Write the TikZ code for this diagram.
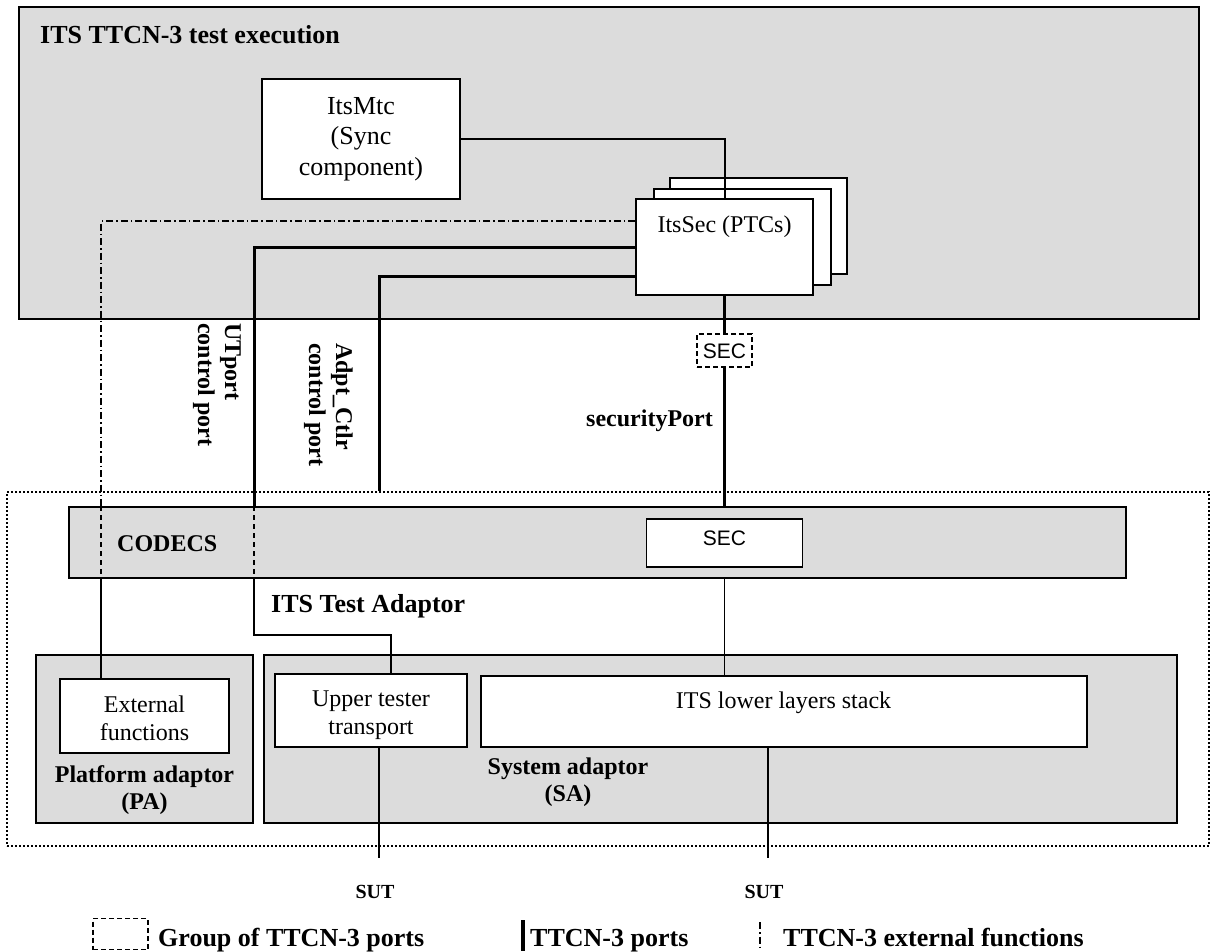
\documentclass[tikz,border=0pt]{standalone}
\usepackage{fontspec}
\setmainfont{Liberation Serif}
\newfontfamily\sansf{Liberation Sans}
\definecolor{gfill}{HTML}{DCDCDC}
\newcommand\ftitle{\fontsize{26}{30}\selectfont\bfseries}
\newcommand\flab{\fontsize{24}{27}\selectfont\bfseries}
\newcommand\fnorm{\fontsize{24}{28}\selectfont}
\newcommand\fmtc{\fontsize{26}{30.5}\selectfont}
\newcommand\fsut{\fontsize{20}{24}\selectfont\bfseries}
\newcommand\fsec{\fontsize{21}{24}\selectfont\sansf}
\begin{document}
\begin{tikzpicture}[x=1pt,y=-1pt,
  gbox/.style={draw, line width=1.5pt, fill=gfill, inner sep=0pt},
  wbox/.style={draw, line width=1.5pt, fill=white, inner sep=0pt},
  txt/.style={inner sep=0pt},
  portln/.style={line width=3pt},
  mtcln/.style={line width=2pt},
  thinln/.style={line width=1.5pt},
  dashln/.style={line width=1.5pt, dash pattern=on 5pt off 4pt},
  dashdotln/.style={line width=1.5pt, dash pattern=on 7pt off 3pt on 1.5pt off 3pt},
  dotbox/.style={draw, line width=2pt, dash pattern=on 2pt off 2pt, inner sep=0pt}]
\useasboundingbox (0,0) rectangle (1210,951);

% test execution area
\node[gbox, line width=2pt, minimum width=1180pt, minimum height=312pt] (exec) at (609,163) {};
\node[txt, anchor=base west, font=\ftitle] (exect) at (40,43) {ITS TTCN-3 test execution};
\node[wbox, minimum width=198pt, minimum height=120pt, align=center, font=\fmtc] (mtc) at (361,139) {ItsMtc\\(Sync\\component)};
\node[wbox, line width=2pt, minimum width=177pt, minimum height=96pt] (ptc3) at (758.5,226) {};
\node[wbox, line width=2pt, minimum width=177pt, minimum height=96pt] (ptc2) at (742.5,237) {};
\node[wbox, line width=2pt, minimum width=177pt, minimum height=96pt] (ptc1) at (724.5,247) {};
\node[txt, anchor=base, font=\fnorm] (ptct) at (724.5,232) {ItsSec (PTCs)};

% port group
\node[draw, line width=1.5pt, dash pattern=on 5pt off 3pt, fill=white, minimum width=55pt, minimum height=33pt, inner sep=0pt] (secg) at (724.5,350.5) {};
\node[txt, anchor=base, font=\fsec] (secgt) at (724.5,358) {SEC};

% port labels
\node[txt, rotate=-90, anchor=north west, align=left, font=\flab] (utl) at (241,323) {UTport\\control port};
\node[txt, rotate=-90, anchor=north west, align=left, font=\flab] (adl) at (353,343) {Adpt\_Ctlr\\control port};
\node[txt, anchor=base east, font=\flab] (secp) at (713,426) {securityPort};

% test adaptor
\node[dotbox, minimum width=1202pt, minimum height=354pt] (adaptor) at (608,669) {};
\node[gbox, minimum width=1057pt, minimum height=71pt] (codecs) at (597.5,542.5) {};
\node[txt, anchor=base west, font=\flab] (codecst) at (117,551) {CODECS};
\node[wbox, minimum width=156pt, minimum height=48pt] (sec) at (724.5,543) {};
\node[txt, anchor=base, font=\fsec] (sect) at (724.5,545) {SEC};
\node[txt, anchor=base west, font=\ftitle] (adaptort) at (271,612) {ITS Test Adaptor};

\node[gbox, minimum width=217pt, minimum height=168pt] (pa) at (144.5,739) {};
\node[wbox, minimum width=169pt, minimum height=74pt] (ext) at (144.5,716) {};
\node[txt, align=center, font=\fnorm] (extt) at (144.5,718.3) {External\\functions};
\node[txt, align=center, font=\flab] (pat) at (144.5,790) {Platform adaptor\\(PA)};

\node[gbox, minimum width=913pt, minimum height=168pt] (sa) at (720.5,739) {};
\node[wbox, minimum width=192pt, minimum height=73pt] (ut) at (371,710.5) {};
\node[txt, align=center, font=\fnorm] (utt) at (371,715.6) {Upper tester\\transport};
\node[wbox, minimum width=606pt, minimum height=71pt] (lls) at (784,711.5) {};
\node[txt, anchor=base, font=\fnorm] (llst) at (783.5,708) {ITS lower layers stack};
\node[txt, align=center, font=\flab] (sat) at (568,782.6) {System adaptor\\(SA)};

% SUT labels
\node[txt, anchor=base, font=\fsut] (sut1t) at (375,898) {SUT};
\node[txt, anchor=base, font=\fsut] (sut2t) at (764,898) {SUT};

% bend points
\coordinate (ef) at (101,221);
\coordinate (utc) at (254,247);
\coordinate (utb) at (391,635);
\coordinate (adc) at (379,276);
\coordinate (sutl) at (379,858);
\coordinate (sutr) at (768,858);

% connectors
\draw[dashdotln] (ptc1.west |- ef) -- (ef) -- (ef |- codecs.north);
\draw[dashln] (ef |- codecs.north) -- (ef |- codecs.south);
\draw[thinln] (ef |- codecs.south) -- (ef |- ext.north);

\draw[portln] (ptc1.west |- utc) -- (utc) -- (utc |- codecs.north);
\draw[dashln] (utc |- codecs.north) -- (utc |- codecs.south);
\draw[thinln] (utc |- codecs.south) -- (utc |- utb) -- (utb) -- (utb |- ut.north);

\draw[portln] (ptc1.west |- adc) -- (adc) -- (adc |- adaptor.north);
\draw[mtcln] (mtc.east) -| (ptc1.north);
\draw[portln] (ptc1.south) -- (secg.north);
\draw[portln] (secg.south) -- (secg.south |- codecs.north);
\draw[thinln] (secg.south |- codecs.south) -- (secg.south |- lls.north);
\draw[thinln] (ut.south -| sutl) -- (sutl);
\draw[thinln] (lls.south -| sutr) -- (sutr);

% legend
\node[draw, line width=1.5pt, dash pattern=on 5pt off 3pt, minimum width=55pt, minimum height=31pt, inner sep=0pt] (lg1) at (120.5,934) {};
\node[txt, anchor=base west, font=\ftitle] (lg1t) at (158,946) {Group of TTCN-3 ports};
\coordinate (lb1) at (523,920);
\coordinate (lb2) at (523,951);
\draw[line width=3.5pt] (lb1) -- (lb2);
\node[txt, anchor=base west, font=\ftitle] (lg2t) at (530,946) {TTCN-3 ports};
\coordinate (lc1) at (760,922);
\coordinate (lc2) at (760,951);
\draw[dashdotln] (lc1) -- (lc2);
\node[txt, anchor=base west, font=\ftitle] (lg3t) at (783,946) {TTCN-3 external functions};
\end{tikzpicture}
\end{document}
